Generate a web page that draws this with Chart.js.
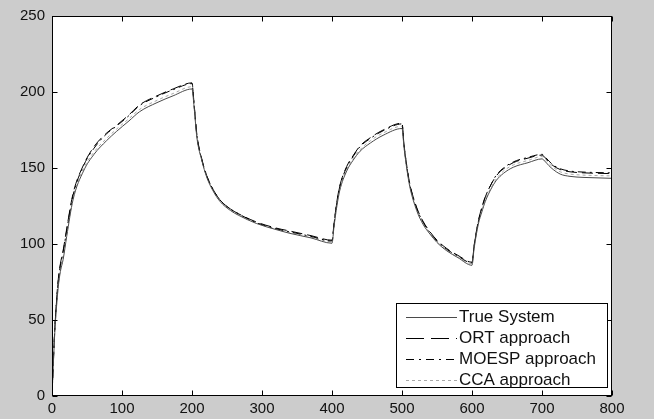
<!DOCTYPE html>
<html>
<head>
<meta charset="utf-8">
<script src="https://cdn.jsdelivr.net/npm/chart.js@4"></script>
<style>
html,body{margin:0;padding:0;background:#cccccc;}
canvas{display:block;}
</style>
</head>
<body>
<canvas id="c" width="654" height="419"></canvas>
<script>
// ---- data ----
const timeSteps = [0,2,4,6,9,12,16,21,30,45,60,78,92,110,125,150,173,200,
  203,207,214,221,230,240,255,266,292,320,340,370,400,
  403,407,411,421,430,440,455,473,500,
  503,507,511,521,530,540,550,564,580,600,
  603,609,614,619,627,635,645,659,680,700,
  705,710,716,726,740,760,780,800];

const trueSystem = [0,22,42,56,72,82,90,105,129,148,159,168,174,181,187,193,197.5,202,
  190,170,155,144,135,128,122,119,113.5,109.5,107,104,100.5,
  112,125,135,148,155,161,166.5,171.5,176,
  163,149,138,122,113,106.5,101,95.5,91,86,
  97,113,121,128,136,142,146.5,150.5,153.5,156,
  154,151.5,149,146,144.5,143.8,143.5,143.2];

const ortApproach = [0,24,45,60,77,87,96,110,133,152,164,173,178,185,191.5,197.5,202,206,
  192,172,156,145,136,129,123,120,114.5,110.5,108.5,105.5,102.5,
  114,128,138,151,158,164.5,170,175,179.5,
  165,151,140,124,115,108,102.5,97,92.5,88,
  99,115,124,131,139,145,149.5,153.5,156.5,158.5,
  156.5,154,151.5,149,147.5,146.8,146.5,146.3];

const moespApproach = [0,23,44,59,76,86,95,109,132,151.5,163,172.5,177.5,184.5,191,197,201.5,205.5,
  191.5,171.5,155.5,145,136,129,123,120,114,110,108,105,102,
  113.5,127.5,137.5,150.5,157.5,164,169.5,174.5,179,
  164.5,150.5,139.5,123.5,114.5,107.5,102,96.5,92,87.5,
  98.5,114.5,123.5,131,139,145.5,150,154,157,159,
  157,154.5,152,149.5,148,147.3,147,146.8];

const ccaApproach = [0,22.5,43,57,73,83,91.5,106.5,130.5,149.5,160.5,169.5,175.5,182.5,188.5,194.5,199,203.5,
  191,171,155.5,144.5,135.5,128.5,122.5,119.5,114,110,107.5,104.5,101.5,
  113,126,136,149,156,162,168,173,177.5,
  164,150,139,123,114,107,101.5,96,91.5,87,
  98,114,122,129,137,143,148,152,155,157.5,
  155.5,153,150.5,147.5,146,145.3,145,144.8];

const seriesNames = ['True System','ORT approach','MOESP approach','CCA approach'];
const xTicks = [0,100,200,300,400,500,600,700,800];
const yTicks = [0,50,100,150,200,250];

const pts = arr => timeSteps.map((t,i)=>({x:t, y:arr[i]}));

const FONT = '"Liberation Sans", Arial, Helvetica, sans-serif';

const bgPlugin = {
  id:'bg',
  beforeDraw(chart){
    const {ctx, chartArea:a} = chart;
    ctx.save();
    ctx.fillStyle = '#cccccc';
    ctx.fillRect(0,0,chart.width,chart.height);
    ctx.fillStyle = '#ffffff';
    ctx.fillRect(a.left,a.top,a.right-a.left,a.bottom-a.top);
    ctx.restore();
  }
};

const boxPlugin = {
  id:'box',
  afterDraw(chart){
    const {ctx, chartArea:a, scales} = chart;
    const L = Math.round(a.left)+0.5, R = Math.round(a.right)-0.5;
    const T = Math.round(a.top)+0.5, B = Math.round(a.bottom)-0.5;
    ctx.save();
    ctx.strokeStyle = '#000';
    ctx.lineWidth = 1;
    ctx.strokeRect(L, T, R-L, B-T);
    const tl = 5;
    ctx.beginPath();
    xTicks.forEach(v=>{
      const x = Math.round(scales.x.getPixelForValue(v))+0.5;
      ctx.moveTo(x,B); ctx.lineTo(x,B-tl);
      ctx.moveTo(x,T); ctx.lineTo(x,T+tl);
    });
    yTicks.forEach(v=>{
      const y = Math.round(scales.y.getPixelForValue(v))+0.5;
      ctx.moveTo(L,y); ctx.lineTo(L+tl,y);
      ctx.moveTo(R,y); ctx.lineTo(R-tl,y);
    });
    ctx.stroke();

    // legend inside the axes (bottom right)
    const lx = 396.5, ly = 303.5, lw = 211, lh = 84;
    ctx.fillStyle = '#fff';
    ctx.fillRect(lx,ly,lw,lh);
    ctx.strokeStyle = '#000';
    ctx.strokeRect(lx,ly,lw,lh);
    ctx.font = '17px ' + FONT;
    ctx.textBaseline = 'middle';
    ctx.textAlign = 'left';
    chart.data.datasets.forEach((ds,i)=>{
      const y = Math.round(ly + 13 + i*21) + 0.5;
      ctx.save();
      ctx.strokeStyle = ds.borderColor;
      ctx.lineWidth = 1;
      ctx.setLineDash(ds.legendDash || []);
      ctx.beginPath();
      ctx.moveTo(406,y); ctx.lineTo(457,y);
      ctx.stroke();
      ctx.restore();
      ctx.fillStyle = '#111';
      ctx.fillText(ds.label, 459, y);
    });
    ctx.restore();
  }
};

new Chart(document.getElementById('c'), {
  type:'line',
  data:{
    datasets:[
      {label:seriesNames[0], data:pts(trueSystem), borderColor:'#4a4a4a', borderWidth:1, borderDash:[], legendDash:[]},
      {label:seriesNames[1], data:pts(ortApproach), borderColor:'#000000', borderWidth:1, borderDash:[11,5], legendDash:[18,7]},
      {label:seriesNames[2], data:pts(moespApproach), borderColor:'#000000', borderWidth:1, borderDash:[8,4,2,4], legendDash:[8,5,2,5]},
      {label:seriesNames[3], data:pts(ccaApproach), borderColor:'#a8a8a8', borderWidth:1, borderDash:[3,3], legendDash:[3,3]}
    ]
  },
  options:{
    responsive:false,
    animation:false,
    devicePixelRatio:1,
    layout:{padding:{top:16,right:42,left:0,bottom:0}},
    elements:{point:{radius:0}, line:{cubicInterpolationMode:'monotone'}},
    plugins:{legend:{display:false}, tooltip:{enabled:false}},
    scales:{
      x:{
        type:'linear', min:0, max:800,
        afterBuildTicks(s){ s.ticks = xTicks.map(v=>({value:v})); },
        afterFit(s){ s.height = 23; },
        grid:{display:false, drawTicks:false},
        border:{display:false},
        ticks:{color:'#111', font:{family:FONT, size:15}, padding:4, maxRotation:0, autoSkip:false}
      },
      y:{
        type:'linear', min:0, max:250,
        afterBuildTicks(s){ s.ticks = yTicks.map(v=>({value:v})); },
        afterFit(s){ s.width = 52; },
        grid:{display:false, drawTicks:false},
        border:{display:false},
        ticks:{color:'#111', font:{family:FONT, size:15}, padding:7, autoSkip:false}
      }
    }
  },
  plugins:[bgPlugin, boxPlugin]
});
</script>
</body>
</html>
